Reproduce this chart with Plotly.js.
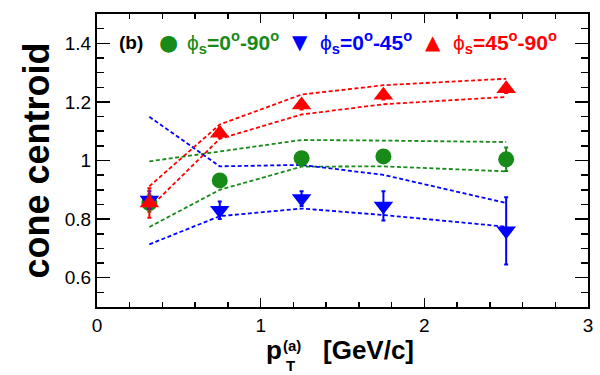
<!DOCTYPE html>
<html>
<head>
<meta charset="utf-8">
<script src="https://cdn.plot.ly/plotly-3.0.1.min.js"></script>
<style>html,body{margin:0;padding:0;background:#fff}#plot{width:600px;height:375px}</style>
</head>
<body>
<div id="plot"></div>
<script>
// ---- data ----
const pt = [0.32, 0.75, 1.25, 1.75, 2.5];

const greenY   = [0.855, 0.932, 1.008, 1.014, 1.004];
const greenErr = [0.03, 0.015, 0.012, 0.015, 0.04];
const blueY    = [0.865, 0.83, 0.87, 0.845, 0.76];
const blueErr  = [0.03, 0.03, 0.025, 0.05, 0.115];
const redY     = [0.855, 1.093, 1.189, 1.223, 1.245];
const redErr   = [0.05, 0.015, 0.015, 0.015, 0.015];

const greenHi = [0.997, 1.031, 1.07, 1.068, 1.063];
const greenLo = [0.773, 0.90, 0.979, 0.98, 0.963];
const blueHi  = [1.149, 0.98, 0.985, 0.951, 0.855];
const blueLo  = [0.714, 0.81, 0.836, 0.814, 0.774];
const redHi   = [0.912, 1.123, 1.225, 1.257, 1.279];
const redLo   = [0.838, 1.074, 1.157, 1.192, 1.217];

const xTicks = [0, 1, 2, 3];
const yTicks = [0.6, 0.8, 1, 1.2, 1.4];
const yTickText = ['0.6', '0.8', '1', '1.2', '1.4'];

const GREEN = '#178a17', BLUE = '#0000ff', RED = '#ff0000';
const FONT = 'Liberation Sans, Arial, sans-serif';

function band(y, color) {
  return {x: pt, y: y, mode: 'lines', hoverinfo: 'skip', showlegend: false,
          line: {color: color, width: 1.8, dash: '4px,2.5px'}};
}
function pts(y, err, color, symbol, size) {
  return {x: pt, y: y, mode: 'markers', showlegend: false,
          marker: {color: color, symbol: symbol, size: size, line: {width: 0}},
          error_y: {type: 'data', array: err, visible: true, color: color, thickness: 2, width: 2}};
}

const data = [
  band(greenHi, GREEN), band(greenLo, GREEN),
  band(blueHi, BLUE), band(blueLo, BLUE),
  band(redHi, RED), band(redLo, RED),
  pts(greenY, greenErr, GREEN, 'circle', 16),
  pts(blueY, blueErr, BLUE, 'triangle-down', 17),
  pts(redY, redErr, RED, 'triangle-up', 17)
];

const legY = 1.403;
const PHI = '\u03D5';
const annotations = [
  {x: 0.12, y: legY, xref: 'x', yref: 'y', text: '<b>(b)</b>', showarrow: false, xanchor: 'left',
   font: {family: FONT, size: 19, color: '#000'}},
  {x: 0.437, y: legY, xref: 'x', yref: 'y', text: '\u25CF', showarrow: false,
   font: {family: 'DejaVu Sans', size: 22, color: GREEN}},
  {x: 0.54, y: legY, xref: 'x', yref: 'y', showarrow: false, xanchor: 'left',
   text: PHI + '<sub><b>s</b></sub><b>=0<sup>o</sup>-90<sup>o</sup></b>',
   font: {family: FONT, size: 21, color: GREEN}},
  {x: 1.24, y: legY, xref: 'x', yref: 'y', text: '\u25BC', showarrow: false,
   font: {family: 'DejaVu Sans', size: 20, color: BLUE}},
  {x: 1.35, y: legY, xref: 'x', yref: 'y', showarrow: false, xanchor: 'left',
   text: PHI + '<sub><b>s</b></sub><b>=0<sup>o</sup>-45<sup>o</sup></b>',
   font: {family: FONT, size: 21, color: BLUE}},
  {x: 2.05, y: legY, xref: 'x', yref: 'y', text: '\u25B2', showarrow: false,
   font: {family: 'DejaVu Sans', size: 20, color: RED}},
  {x: 2.16, y: legY, xref: 'x', yref: 'y', showarrow: false, xanchor: 'left',
   text: PHI + '<sub><b>s</b></sub><b>=45<sup>o</sup>-90<sup>o</sup></b>',
   font: {family: FONT, size: 21, color: RED}},
  // x-axis title pieces
  {x: 1.02, y: -0.148, xref: 'x', yref: 'paper', text: '<b>p</b>', showarrow: false,
   xanchor: 'left', yanchor: 'middle', font: {family: FONT, size: 26, color: '#000'}},
  {x: 1.125, y: -0.13, xref: 'x', yref: 'paper', text: '<b>(a)</b>', showarrow: false,
   xanchor: 'left', yanchor: 'middle', font: {family: FONT, size: 15, color: '#000'}},
  {x: 1.14, y: -0.2, xref: 'x', yref: 'paper', text: '<b>T</b>', showarrow: false,
   xanchor: 'left', yanchor: 'middle', font: {family: FONT, size: 15, color: '#000'}},
  {x: 1.37, y: -0.148, xref: 'x', yref: 'paper', text: '<b>[GeV/c]</b>', showarrow: false,
   xanchor: 'left', yanchor: 'middle', font: {family: FONT, size: 26, color: '#000'}}
];

const axisCommon = {
  showline: true, linecolor: '#000', linewidth: 2, mirror: 'allticks',
  ticks: 'inside', tickcolor: '#000', tickwidth: 1.5,
  showgrid: false, zeroline: false, fixedrange: true,
  tickfont: {family: FONT, size: 19, color: '#000'}
};

const layout = {
  width: 600, height: 375,
  margin: {l: 97, r: 12, t: 14, b: 68},
  paper_bgcolor: '#fff', plot_bgcolor: '#fff',
  showlegend: false,
  xaxis: Object.assign({}, axisCommon, {
    range: [0, 3], tickmode: 'array', tickvals: xTicks, ticktext: xTicks.map(String), ticklen: 9,
    minor: {dtick: 0.2, ticks: 'inside', ticklen: 5, tickcolor: '#000', tickwidth: 1.5}
  }),
  yaxis: Object.assign({}, axisCommon, {
    range: [0.5, 1.5], tickmode: 'array', tickvals: yTicks, ticktext: yTickText, ticklen: 13,
    minor: {dtick: 0.05, tick0: 0.5, ticks: 'inside', ticklen: 7, tickcolor: '#000', tickwidth: 1.5},
    title: {text: '<b>cone centroid</b>', font: {family: FONT, size: 36, color: '#000'}, standoff: 4}
  }),
  annotations: annotations
};

Plotly.newPlot('plot', data, layout, {displayModeBar: false, staticPlot: true});
</script>
</body>
</html>
